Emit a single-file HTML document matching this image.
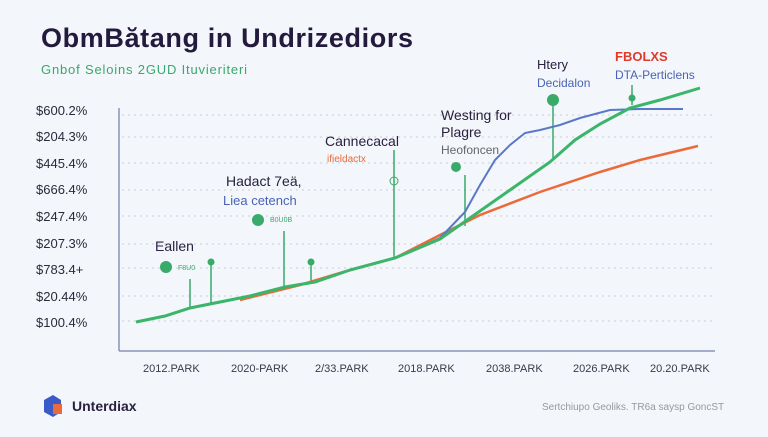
<!DOCTYPE html>
<html><head><meta charset="utf-8"><style>
body{margin:0;width:768px;height:432px;overflow:hidden;background:#f3f6fa;font-family:"Liberation Sans",sans-serif}
</style></head><body>
<svg width="768" height="432" viewBox="0 0 768 432" xmlns="http://www.w3.org/2000/svg" font-family="Liberation Sans, sans-serif">
<rect width="768" height="432" fill="#f3f6fa"/>
<text x="41" y="47" font-size="27" font-weight="bold" fill="#231a3d" textLength="372">ObmBătang in Undrizediors</text>
<text x="41" y="74" font-size="13" fill="#3aa86b" textLength="206">Gnbof Seloins 2GUD Ituvieriteri</text>
<g stroke="#c8ccd8" stroke-dasharray="2 4" stroke-width="1">
<line x1="122" y1="115" x2="715" y2="115"/><line x1="122" y1="137" x2="715" y2="137"/>
<line x1="122" y1="163" x2="715" y2="163"/><line x1="122" y1="190" x2="715" y2="190"/>
<line x1="122" y1="216" x2="715" y2="216"/><line x1="122" y1="244" x2="715" y2="244"/>
<line x1="122" y1="268" x2="715" y2="268"/><line x1="122" y1="296" x2="715" y2="296"/>
<line x1="122" y1="321" x2="715" y2="321"/>
</g>
<line x1="119" y1="108" x2="119" y2="351" stroke="#8a93b8" stroke-width="1.5"/>
<line x1="119" y1="351" x2="715" y2="351" stroke="#8a93b8" stroke-width="1.5"/>
<g font-size="13" fill="#2a2a3a">
<text x="36" y="115">$600.2%</text><text x="36" y="141">$204.3%</text>
<text x="36" y="168">$445.4%</text><text x="36" y="194">$666.4%</text>
<text x="36" y="221">$247.4%</text><text x="36" y="248">$207.3%</text>
<text x="36" y="274">$783.4+</text><text x="36" y="301">$20.44%</text>
<text x="36" y="327">$100.4%</text>
</g>
<g font-size="11" fill="#3a3a4a">
<text x="143" y="372">2012.PARK</text><text x="231" y="372">2020-PARK</text>
<text x="315" y="372">2/33.PARK</text><text x="398" y="372">2018.PARK</text>
<text x="486" y="372">2038.PARK</text><text x="573" y="372">2026.PARK</text>
<text x="650" y="372">20.20.PARK</text>
</g>
<g stroke="#3aaa6a" stroke-width="1.5">
<line x1="190" y1="279" x2="190" y2="308"/><line x1="211" y1="262" x2="211" y2="304"/>
<line x1="284" y1="231" x2="284" y2="288"/><line x1="311" y1="262" x2="311" y2="284"/>
<line x1="394" y1="150" x2="394" y2="258"/><line x1="465" y1="175" x2="465" y2="226"/>
<line x1="553" y1="105" x2="553" y2="160"/><line x1="632" y1="85" x2="632" y2="105"/>
</g>
<g fill="#3aaa6a"><circle cx="166" cy="267" r="6"/><circle cx="211" cy="262" r="3.5"/>
<circle cx="258" cy="220" r="6"/><circle cx="311" cy="262" r="3.5"/>
<circle cx="553" cy="100" r="6"/><circle cx="632" cy="98" r="3.5"/><circle cx="456" cy="167" r="5"/>
<circle cx="394" cy="181" r="4" fill="none" stroke="#3aaa6a"/></g>
<text x="178" y="270" font-size="7" fill="#3aaa6a">F8U0</text>
<text x="270" y="222" font-size="7" fill="#3aaa6a">B0U0B</text>
<polyline fill="none" stroke="#ec6a3a" stroke-width="2.5" points="240,300 300,285 350,270 395,258 440,235 480,215 540,192 600,172 640,160 698,146"/>
<polyline fill="none" stroke="#5a78c8" stroke-width="2" points="395,258 440,238 465,212 480,185 495,160 510,145 525,133 540,130 560,125 580,118 610,110 640,109 683,109"/>
<polyline fill="none" stroke="#3ab56a" stroke-width="3" points="136,322 165,316 190,308 250,296 285,287 315,282 350,270 395,258 440,239 470,218 510,190 550,162 575,140 600,124 630,108 660,100 700,88"/>
<text x="155" y="251" font-size="14" fill="#2a2140">Eallen</text>
<text x="226" y="186" font-size="14" fill="#2a2140">Hadact 7eä,</text>
<text x="223" y="205" font-size="13" fill="#4a63b5">Liea cetench</text>
<text x="325" y="146" font-size="14" fill="#2a2140">Cannecacal</text>
<text x="327" y="162" font-size="10" fill="#e86a3a">ifieldactx</text>
<text x="441" y="120" font-size="14" fill="#2a2140">Westing for</text>
<text x="441" y="137" font-size="14" fill="#2a2140">Plagre</text>
<text x="441" y="154" font-size="12" fill="#666">Heofoncen</text>
<text x="537" y="69" font-size="13" fill="#2a2140">Htery</text>
<text x="537" y="87" font-size="12" fill="#4a63b5">Decidalon</text>
<text x="615" y="61" font-size="13" font-weight="bold" fill="#e03a2a">FBOLXS</text>
<text x="615" y="79" font-size="12" fill="#4a63b5">DTA-Perticlens</text>
<path d="M44 400 L53 395 L61 400 L61 412 L53 417 L44 412Z" fill="#3a5ac8"/>
<rect x="53" y="404" width="9" height="10" fill="#ec6a3a"/>
<text x="72" y="411" font-size="14" font-weight="bold" fill="#2a2140">Unterdiax</text>
<text x="542" y="410" font-size="10" fill="#999">Sertchiupo Geoliks. TR6a saysp GoncST</text>
</svg>
</body></html>
